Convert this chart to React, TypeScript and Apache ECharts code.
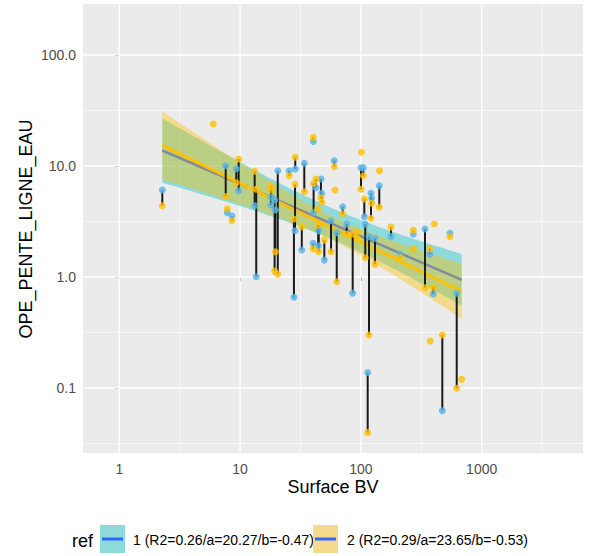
import React, { useEffect, useRef } from "react";
import * as echarts from "echarts";

// ---- data ----
const surfaceBV = [2.27, 6.0, 7.6, 7.83, 8.57, 9.3, 9.73, 13.2, 13.6, 18.0, 18.1, 19.6, 19.3, 20.5, 25.5, 28.6, 28.5, 27.9, 34.0, 32.4, 40.4, 40.6, 40.2, 42.5, 46.7, 47.4, 43.9, 44.4, 44.7, 49.8, 56.6, 60.2, 61.0, 63.1, 70.7, 76.3, 85.5, 93.4, 93.7, 100.2, 101, 104.7, 106.7, 108.7, 116.7, 113.8, 121.2, 122.8, 130.8, 142, 142.6, 177.5, 210.8, 271.5, 275, 339.4, 372, 405, 397.4, 375, 472, 546.5, 621, 683];
const penteRef1 = [6.08, null, 10.06, 3.8, 3.54, 9.46, 5.95, 4.39, 1.006, 4.45, 5.22, 4.01, 4.94, 9.07, 9.07, 9.4, 2.61, 0.656, 10.57, 1.75, 16.6, 3.8, 2.01, 6.37, 7.64, 5.68, null, 1.91, 2.61, 1.42, 3.21, 11.16, null, 2.51, 4.3, 3.0, 0.713, null, null, 9.65, null, 9.65, 3.49, 3.0, 2.31, 0.138, 5.68, 5.12, 2.23, 6.65, null, 2.31, 1.61, 2.43, null, 2.71, 1.6, null, 0.703, null, 0.0624, 2.48, 0.713, null];
const penteRef2 = [4.39, 23.9, 5.31, 4.12, 3.21, 7.07, 11.56, 8.96, 6.17, 6.6, 6.08, 1.69, 1.13, 1.06, 8.18, 11.98, 6.84, 3.33, 5.87, 2.84, 18.1, 6.98, 1.8, 7.64, 5.18, 4.71, 4.1, 2.94, 1.69, 2.15, 1.69, 9.86, 6.08, 0.907, 3.69, 2.44, 2.44, 2.56, 2.23, 6.17, 13.3, 8.18, 5.04, 1.49, 0.3, 0.0396, 3.38, 4.61, 1.3, 4.25, 9.07, 2.82, 1.5, 2.63, 1.8, 0.801, 1.8, 3.0, 0.808, 0.265, 0.3, 2.31, 0.0994, 0.1198];

const refNames = ["1", "2"];
const fitR2 = [0.26, 0.29];
const fitA = [20.27, 23.65];
const fitB = [-0.47, -0.53];
// confidence band (log10 units): centre of x, minimal half width, spread
const bandCentre = [1.786, 1.748];
const bandMinHalf = [0.1406, 0.108];
const bandSpread = [0.03146, 0.04231];
const fitRange = [2.27, 683];

const xTicks = [1, 10, 100, 1000];
const yTicks = [0.1, 1, 10, 100];

const FONT = "'Liberation Sans', Arial, Helvetica, sans-serif";
const lg = (v: number) => Math.log10(v);

export default function App() {
  const ref = useRef<HTMLDivElement>(null);
  useEffect(() => {
    const chart = echarts.init(ref.current!, undefined, { renderer: "svg" });

    const xMin = -0.3005, xMax = 3.8386, yMin = -1.5856, yMax = 2.4595;

    // grid lines
    const gridData: number[][] = [];
    xTicks.forEach((t) => gridData.push([0, lg(t), 1.3]));
    [0.5, 1.5, 2.5, 3.5].forEach((v) => gridData.push([0, v, 0.6]));
    yTicks.forEach((t) => gridData.push([1, lg(t), 1.3]));
    [-1.5, -0.5, 0.5, 1.5].forEach((v) => gridData.push([1, v, 0.6]));

    const bandColors = ["rgba(0,191,196,0.4)", "rgba(255,192,0,0.4)"];
    const lineColors = ["#3366FF", "#FFC000"];
    const lineWidths = [2.5, 3];

    const lx0 = lg(fitRange[0]), lx1 = lg(fitRange[1]);
    const bandPolys = [0, 1].map((k) => {
      const up: number[][] = [], lo: number[][] = [];
      const N = 60;
      for (let i = 0; i <= N; i++) {
        const lx = lx0 + ((lx1 - lx0) * i) / N;
        const c = lg(fitA[k]) + fitB[k] * lx;
        const h = Math.sqrt(bandMinHalf[k] ** 2 + bandSpread[k] * (lx - bandCentre[k]) ** 2);
        up.push([lx, c + h]);
        lo.push([lx, c - h]);
      }
      return up.concat(lo.reverse());
    });
    const fitLine = (k: number) => [lx0, lx1].map((lx) => [lx, lg(fitA[k]) + fitB[k] * lx]);

    const segs: number[][] = [];
    const pts1: number[][] = [];
    const pts2: number[][] = [];
    surfaceBV.forEach((x, i) => {
      const a = penteRef1[i], b = penteRef2[i];
      if (a != null) pts1.push([lg(x), lg(a)]);
      if (b != null) pts2.push([lg(x), lg(b)]);
      if (a != null && b != null) segs.push([lg(x), lg(a), lg(b)]);
    });

    const option: any = {
      animation: false,
      backgroundColor: "#ffffff",
      grid: { left: 83, top: 4, width: 500, height: 449, show: true, backgroundColor: "#EBEBEB", borderWidth: 0 },
      xAxis: {
        type: "value", min: xMin, max: xMax,
        splitLine: { show: false }, axisLine: { show: false },
        axisTick: { show: true, customValues: xTicks.map(lg), length: 4, lineStyle: { color: "#333333", width: 1 } },
        axisLabel: { customValues: xTicks.map(lg), formatter: (v: number) => String(Math.round(10 ** v)), color: "#4D4D4D", fontSize: 14, fontFamily: FONT, margin: 9 },
      },
      yAxis: {
        type: "value", min: yMin, max: yMax,
        splitLine: { show: false }, axisLine: { show: false },
        axisTick: { show: true, customValues: yTicks.map(lg), length: 4, lineStyle: { color: "#333333", width: 1 } },
        axisLabel: { customValues: yTicks.map(lg), formatter: (v: number) => (10 ** v).toFixed(1), color: "#4D4D4D", fontSize: 14, fontFamily: FONT, margin: 7 },
      },
      series: [
        {
          type: "custom",
          silent: true,
          data: gridData,
          renderItem: (params: any, api: any) => {
            const cs = params.coordSys;
            const kind = api.value(0), v = api.value(1), w = api.value(2);
            if (kind === 0) {
              const x = api.coord([v, 0])[0];
              return { type: "line", shape: { x1: x, y1: cs.y, x2: x, y2: cs.y + cs.height }, style: { stroke: "#ffffff", lineWidth: w } };
            }
            const y = api.coord([0, v])[1];
            return { type: "line", shape: { x1: cs.x, y1: y, x2: cs.x + cs.width, y2: y }, style: { stroke: "#ffffff", lineWidth: w } };
          },
        },
        {
          // each reference: ribbon then fitted line (ref 2 drawn over ref 1)
          type: "custom",
          silent: true,
          data: [[lx0, 0]],
          renderItem: (params: any, api: any) => {
            const children: any[] = [];
            [0, 1].forEach((k) => {
              children.push({ type: "polygon", shape: { points: bandPolys[k].map((p) => api.coord(p)) }, style: { fill: bandColors[k] } });
              children.push({ type: "polyline", shape: { points: fitLine(k).map((p) => api.coord(p)) }, style: { stroke: lineColors[k], lineWidth: lineWidths[k], fill: null } });
            });
            return { type: "group", children };
          },
        },
        {
          type: "custom",
          silent: true,
          data: segs,
          renderItem: (params: any, api: any) => {
            const p1 = api.coord([api.value(0), api.value(1)]);
            const p2 = api.coord([api.value(0), api.value(2)]);
            return { type: "line", shape: { x1: p1[0], y1: p1[1], x2: p2[0], y2: p2[1] }, style: { stroke: "#1A1A1A", lineWidth: 2 } };
          },
        },
        { type: "scatter", silent: true, data: pts1, symbolSize: 7, itemStyle: { color: "#56B4E9" } },
        { type: "scatter", silent: true, data: pts2, symbolSize: 7, itemStyle: { color: "#FFC000" } },
      ],
      graphic: [
        { type: "text", x: 333, y: 487, style: { text: "Surface BV", font: `18px ${FONT}`, fill: "#000000", align: "center", verticalAlign: "middle" } },
        { type: "text", x: 26, y: 229, rotation: Math.PI / 2, style: { text: "OPE_PENTE_LIGNE_EAU", font: `18px ${FONT}`, fill: "#000000", align: "center", verticalAlign: "middle" } },
        { type: "text", x: 72, y: 541, style: { text: "ref", font: `18px ${FONT}`, fill: "#000000", align: "left", verticalAlign: "middle" } },
        ...[0, 1].flatMap((k) => {
          const kx = k === 0 ? 100 : 313;
          const tx = k === 0 ? 133 : 347;
          const label = `${refNames[k]} (R2=${fitR2[k].toFixed(2)}/a=${fitA[k].toFixed(2)}/b=${fitB[k].toFixed(2)})`;
          return [
            { type: "rect", shape: { x: kx, y: 525, width: 25, height: 28 }, style: { fill: "#EBEBEB" } },
            { type: "rect", shape: { x: kx, y: 525, width: 25, height: 28 }, style: { fill: bandColors[k] } },
            { type: "line", shape: { x1: kx + 2, y1: 539, x2: kx + 23, y2: 539 }, style: { stroke: "#3366FF", lineWidth: 3 } },
            { type: "text", x: tx, y: 540, style: { text: label, font: `14px ${FONT}`, fill: "#000000", align: "left", verticalAlign: "middle" } },
          ];
        }),
      ],
    };
    chart.setOption(option);
    return () => chart.dispose();
  }, []);
  return <div ref={ref} style={{ position: "absolute", left: 0, top: 0, width: 589, height: 556, background: "#ffffff" }} />;
}
